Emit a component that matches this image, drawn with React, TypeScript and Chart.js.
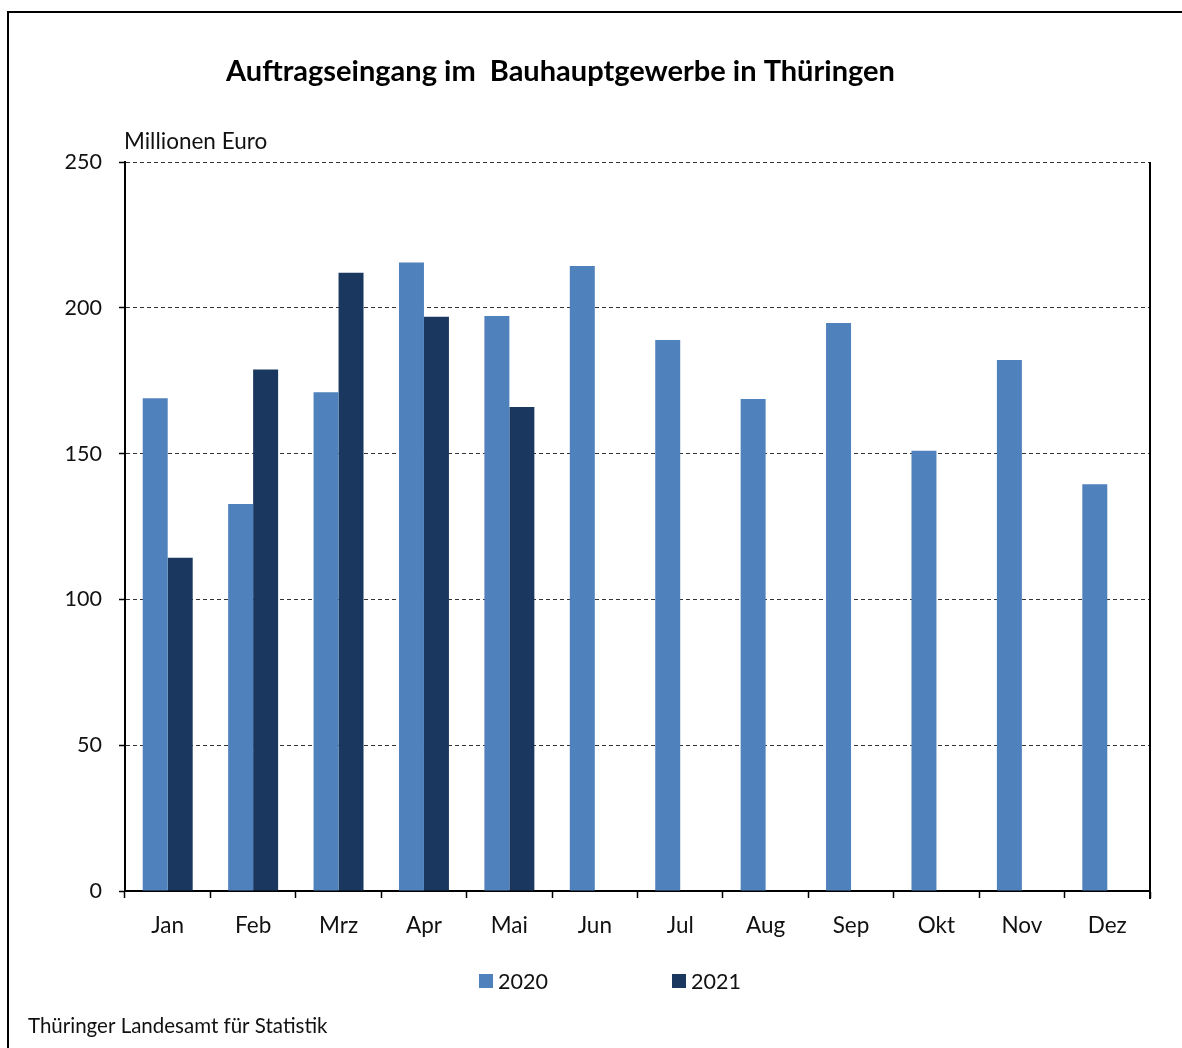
import React, { useEffect, useRef } from "react";
import { Chart, registerables } from "chart.js";

Chart.register(...registerables);

const months = ["Jan", "Feb", "Mrz", "Apr", "Mai", "Jun", "Jul", "Aug", "Sep", "Okt", "Nov", "Dez"];
const values2020 = [169, 132.7, 171, 215.5, 197.2, 214.3, 189, 168.7, 194.8, 151, 182.1, 139.5];
const values2021 = [114.3, 178.8, 212, 196.9, 166, null, null, null, null, null, null, null];
const seriesLabels = ["2020", "2021"];
const seriesColors = ["#4f81bd", "#1a385f"];
const yTicks = [0, 50, 100, 150, 200, 250];
const titleText = "Auftragseingang im  Bauhauptgewerbe in Thüringen";
const unitText = "Millionen Euro";
const sourceText = "Thüringer Landesamt für Statistik";

const FONT = "Lato, 'Noto Sans', sans-serif";

const decorPlugin = {
  id: "decor",
  afterDraw(chart: any) {
    const ctx = chart.ctx;
    const area = chart.chartArea;
    ctx.save();
    // outer frame
    ctx.strokeStyle = "#000";
    ctx.lineWidth = 2;
    ctx.beginPath();
    ctx.moveTo(8, 1048);
    ctx.lineTo(8, 12);
    ctx.lineTo(1182, 12);
    ctx.stroke();
    // right border of plot
    ctx.lineWidth = 2;
    ctx.beginPath();
    ctx.moveTo(area.right, area.top);
    ctx.lineTo(area.right, area.bottom + 8);
    ctx.stroke();
    // title
    ctx.fillStyle = "#000";
    ctx.textBaseline = "alphabetic";
    ctx.textAlign = "left";
    ctx.font = "bold 29px " + FONT;
    ctx.fillText(titleText, 226, 81, 674);
    // unit
    ctx.fillStyle = "#111";
    ctx.font = "22.5px " + FONT;
    ctx.fillText(unitText, 124, 149);
    // source
    ctx.font = "20.5px " + FONT;
    ctx.fillText(sourceText, 28, 1033);
    // legend
    const legendX = [479, 672];
    ctx.font = "21.5px " + FONT;
    ctx.textBaseline = "middle";
    seriesLabels.forEach((lab, i) => {
      ctx.fillStyle = seriesColors[i];
      ctx.fillRect(legendX[i], 974, 14, 14);
      ctx.fillStyle = "#111";
      ctx.fillText(lab, legendX[i] + 19, 982);
    });
    ctx.restore();
  },
};

export default function App() {
  const ref = useRef<HTMLCanvasElement>(null);
  useEffect(() => {
    if (!ref.current) return;
    const chart = new Chart(ref.current, {
      type: "bar",
      data: {
        labels: months,
        datasets: seriesLabels.map((lab, i) => ({
          label: lab,
          data: i === 0 ? values2020 : values2021,
          backgroundColor: seriesColors[i],
          borderWidth: 0,
          barPercentage: 1,
          categoryPercentage: 0.585,
        })),
      },
      options: {
        responsive: false,
        animation: false,
        layout: { padding: { left: 0, right: 32, top: 162, bottom: 0 } },
        plugins: {
          legend: { display: false },
          title: { display: false },
          tooltip: { enabled: false },
        },
        scales: {
          x: {
            grid: {
              display: true,
              drawOnChartArea: false,
              drawTicks: true,
              tickLength: 7,
              tickColor: "#000",
              tickWidth: 1.5,
              offset: true,
            },
            border: { display: true, color: "#000", width: 2 },
            ticks: {
              color: "#111",
              font: { family: FONT, size: 22.5 },
              padding: 14,
              maxRotation: 0,
            },
            afterFit(scale: any) {
              scale.height = 1048 - 891;
            },
          },
          y: {
            min: 0,
            max: 250,
            afterBuildTicks(scale: any) {
              scale.ticks = yTicks.map((v) => ({ value: v }));
            },
            grid: {
              color: "#333",
              lineWidth: 1,
              drawTicks: true,
              tickLength: 6,
              tickColor: "#000",
              tickWidth: 1.5,
              tickBorderDash: [],
            },
            border: { display: true, color: "#000", width: 2, dash: [4, 3] },
            ticks: {
              color: "#111",
              font: { family: FONT, size: 21.5 },
              padding: 17,
            },
            afterFit(scale: any) {
              scale.width = 125;
            },
          },
        },
      },
      plugins: [decorPlugin],
    });
    return () => chart.destroy();
  }, []);
  return (
    <div style={{ position: "fixed", left: 0, top: 0, width: 1182, height: 1048, background: "#fff" }}>
      <canvas ref={ref} width={1182} height={1048} style={{ display: "block" }} />
    </div>
  );
}
